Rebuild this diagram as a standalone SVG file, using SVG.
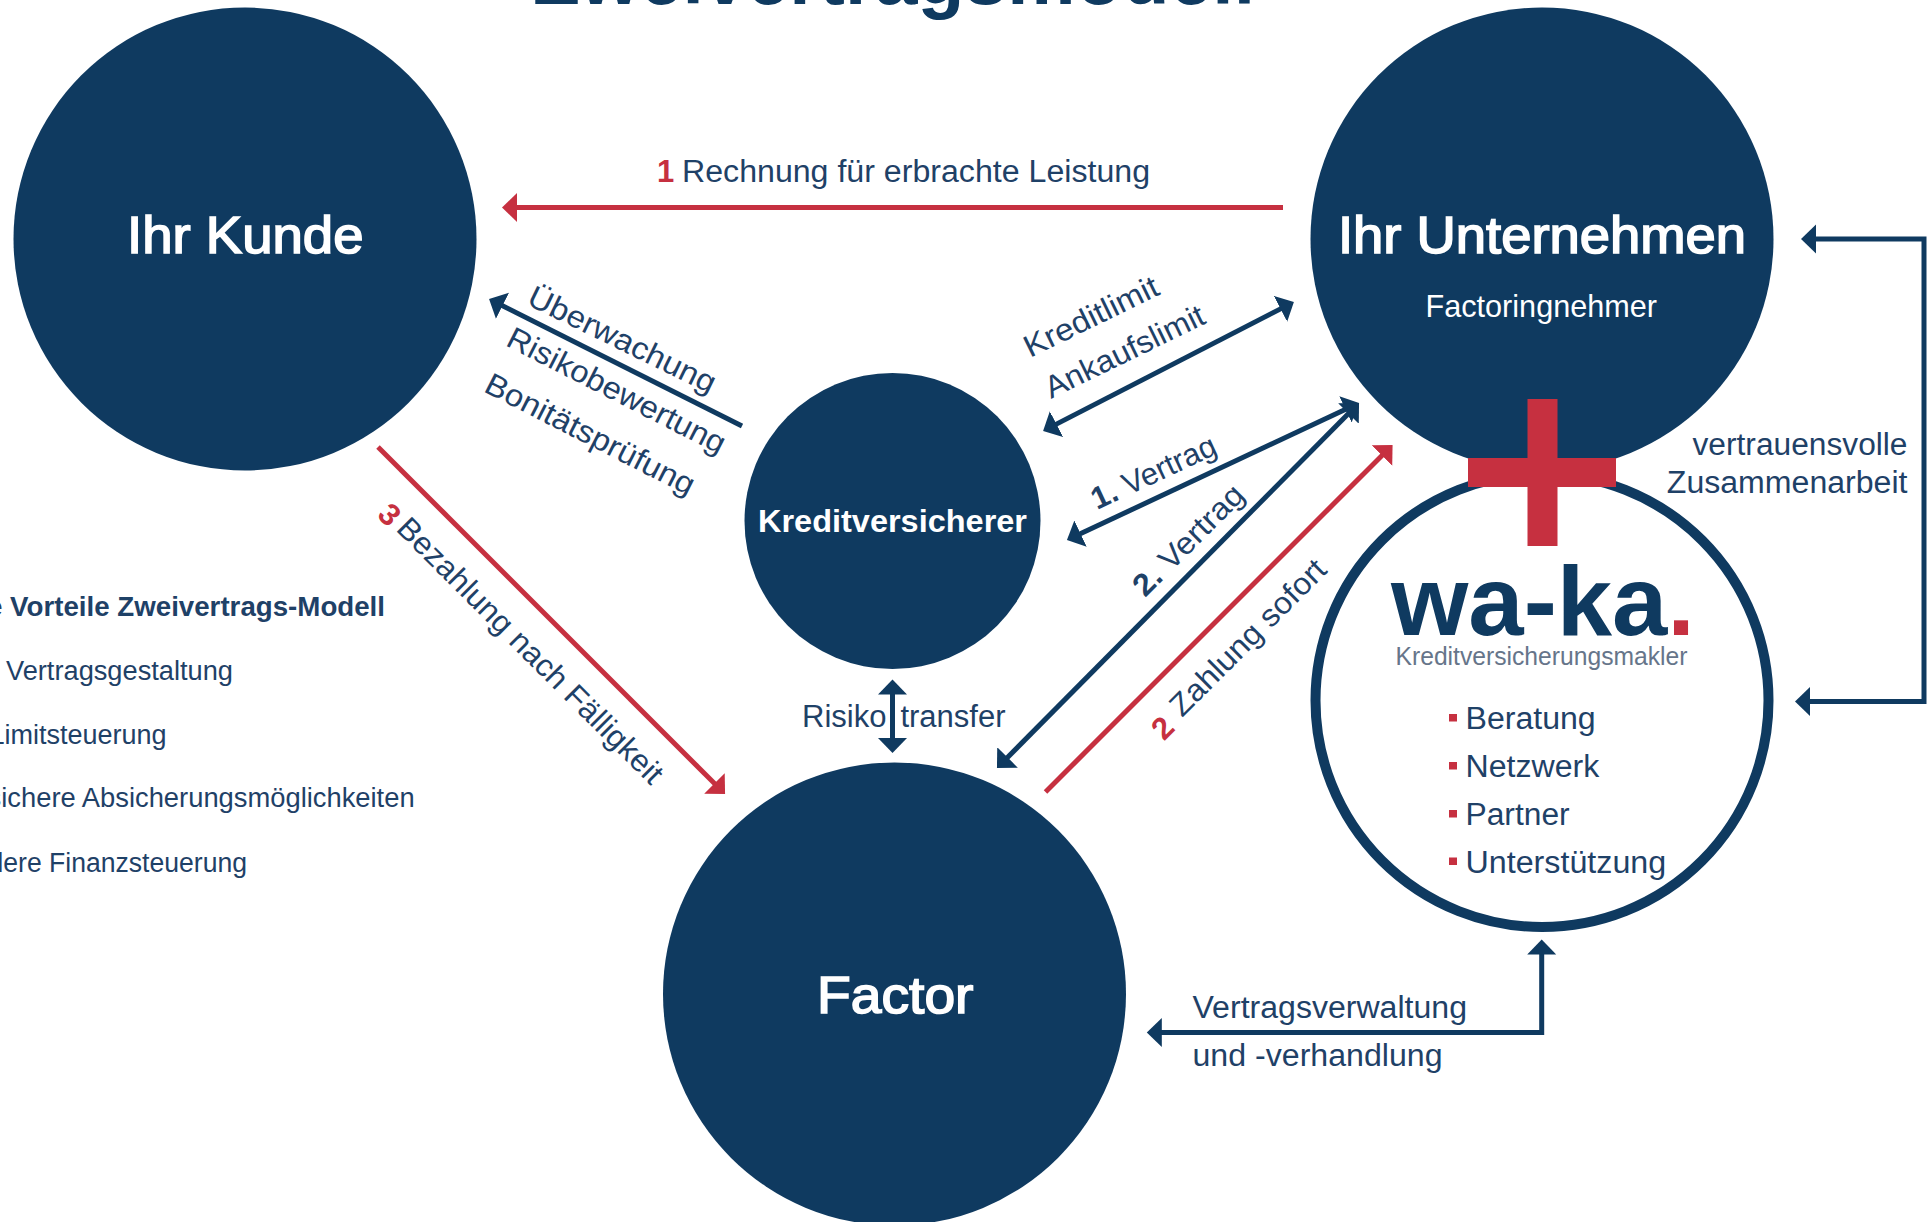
<svg xmlns="http://www.w3.org/2000/svg" width="1932" height="1222" viewBox="0 0 1932 1222">
<style>
text{font-family:"Liberation Sans",Arial,sans-serif;fill:#1f4167;font-size:31px}
.w{fill:#fff}
.big{font-size:52px;stroke:#fff;stroke-width:1.6px}
.red{fill:#c63040}
.b{font-weight:700}
.side{font-size:27px}
.node{fill:#0f3a60}
.ln{fill:none;stroke:#0f3a60;stroke-width:5}
.lr{fill:none;stroke:#c63040;stroke-width:5}
</style>
<defs>
<marker id="an" markerUnits="userSpaceOnUse" markerWidth="20" markerHeight="32" viewBox="0 0 20 32" refX="5" refY="16" orient="auto-start-reverse"><path d="M0,1.500L15,16L0,30.500Z" fill="#0f3a60"/></marker>
<marker id="ar" markerUnits="userSpaceOnUse" markerWidth="20" markerHeight="32" viewBox="0 0 20 32" refX="5" refY="16" orient="auto-start-reverse"><path d="M0,1.500L15,16L0,30.500Z" fill="#c63040"/></marker>
</defs>
<rect width="1932" height="1222" fill="#fff"/>
<text id="title" x="533" y="4" class="b" style="font-size:77px;fill:#0f3a60" textLength="722" lengthAdjust="spacingAndGlyphs">Zweivertragsmodell</text>
<g id="connectors">
<path class="lr" marker-end="url(#ar)" d="M1283,207.500H512"/>
<path class="ln" marker-end="url(#an)" d="M742,426L498,303.500"/>
<path class="lr" marker-end="url(#ar)" d="M378,447L718,787"/>
<path class="ln" marker-start="url(#an)" marker-end="url(#an)" d="M1052,426.400L1285,306.600"/>
<path class="ln" marker-start="url(#an)" marker-end="url(#an)" d="M1076,535.800L1350,407.200"/>
<path class="ln" marker-start="url(#an)" marker-end="url(#an)" d="M1004,761L1352,410"/>
<path class="lr" marker-end="url(#ar)" d="M1045.500,792L1385.500,452"/>
<path class="ln" marker-start="url(#an)" marker-end="url(#an)" d="M892.500,689.500V743"/>
<path class="ln" marker-start="url(#an)" marker-end="url(#an)" d="M1811,239H1924V701.500H1805"/>
<path class="ln" marker-start="url(#an)" marker-end="url(#an)" d="M1156.800,1032.500H1541.700V949.500"/>
</g>
<g id="edge-labels">
<text x="657" y="182"><tspan class="red b">1</tspan></text>
<text x="682" y="182" textLength="468" lengthAdjust="spacingAndGlyphs">Rechnung für erbrachte Leistung</text>
<text transform="translate(525.500,304) rotate(26)" textLength="205" lengthAdjust="spacingAndGlyphs">Überwachung</text>
<text transform="translate(504.500,345) rotate(27)" textLength="241" lengthAdjust="spacingAndGlyphs">Risikobewertung</text>
<text transform="translate(482.500,391) rotate(27)" textLength="231" lengthAdjust="spacingAndGlyphs">Bonitätsprüfung</text>
<text transform="translate(376,516) rotate(45)"><tspan class="red b">3</tspan></text>
<text transform="translate(395,530) rotate(45)" textLength="362" lengthAdjust="spacingAndGlyphs">Bezahlung nach Fälligkeit</text>
<text transform="translate(1030,358) rotate(-26)" textLength="146" lengthAdjust="spacingAndGlyphs">Kreditlimit</text>
<text transform="translate(1051,399) rotate(-26)" textLength="174" lengthAdjust="spacingAndGlyphs">Ankaufslimit</text>
<text transform="translate(1097,510) rotate(-25)"><tspan class="b">1.</tspan> Vertrag</text>
<text transform="translate(1145,598) rotate(-45)" textLength="143" lengthAdjust="spacingAndGlyphs"><tspan class="b">2.</tspan> Vertrag</text>
<text transform="translate(1164,741.500) rotate(-45)"><tspan class="red b">2</tspan></text>
<text transform="translate(1182,718) rotate(-45)" textLength="207" lengthAdjust="spacingAndGlyphs">Zahlung sofort</text>
<text x="802" y="726.500">Risiko<tspan dx="14">transfer</tspan></text>
<text x="1692.500" y="454.500" textLength="215" lengthAdjust="spacingAndGlyphs">vertrauensvolle</text>
<text x="1666.800" y="493" textLength="240.700" lengthAdjust="spacingAndGlyphs">Zusammenarbeit</text>
<text x="1192.500" y="1018" textLength="274.500" lengthAdjust="spacingAndGlyphs">Vertragsverwaltung</text>
<text x="1192.500" y="1066" textLength="250" lengthAdjust="spacingAndGlyphs">und -verhandlung</text>
</g>
<g id="node-kunde"><circle class="node" cx="245" cy="239" r="231.500"/><text class="w big" x="127" y="253" textLength="236.500" lengthAdjust="spacingAndGlyphs">Ihr Kunde</text></g>
<g id="node-unternehmen"><circle class="node" cx="1542" cy="239" r="231.500"/><text class="w big" x="1338" y="253" textLength="408" lengthAdjust="spacingAndGlyphs">Ihr Unternehmen</text><text class="w" x="1425.500" y="317" style="font-size:32px" textLength="231.500" lengthAdjust="spacingAndGlyphs">Factoringnehmer</text></g>
<g id="node-kreditversicherer"><circle class="node" cx="892.500" cy="521" r="148"/><text class="w b" x="758" y="532" style="font-size:32px" textLength="269" lengthAdjust="spacingAndGlyphs">Kreditversicherer</text></g>
<g id="node-factor"><circle class="node" cx="894.500" cy="994" r="231.500"/><text class="w big" x="817" y="1013" textLength="156.500" lengthAdjust="spacingAndGlyphs">Factor</text></g>
<g id="node-waka">
<circle cx="1542" cy="700.500" r="226.500" fill="#fff" stroke="#0f3a60" stroke-width="10"/>
<text class="b" x="1391" y="635" style="font-size:98px;fill:#0f3a60" textLength="304" lengthAdjust="spacingAndGlyphs">wa-ka<tspan class="red">.</tspan></text>
<text x="1395.500" y="665" style="font-size:25px;fill:#66758a" textLength="292" lengthAdjust="spacingAndGlyphs">Kreditversicherungsmakler</text>
<rect x="1449" y="714" width="8" height="7.500" fill="#c63040"/>
<rect x="1449" y="762" width="8" height="7.500" fill="#c63040"/>
<rect x="1449" y="810" width="8" height="7.500" fill="#c63040"/>
<rect x="1449" y="857.500" width="8" height="7.500" fill="#c63040"/>
<text x="1465.500" y="728.500" textLength="130.200" lengthAdjust="spacingAndGlyphs">Beratung</text>
<text x="1465.500" y="776.500" textLength="133.700" lengthAdjust="spacingAndGlyphs">Netzwerk</text>
<text x="1465.500" y="824.500" textLength="104.200" lengthAdjust="spacingAndGlyphs">Partner</text>
<text x="1465.500" y="873" textLength="200.700" lengthAdjust="spacingAndGlyphs">Unterstützung</text>
</g>
<g id="plus"><rect x="1527.500" y="399" width="30" height="147" fill="#c63040"/><rect x="1468" y="458" width="148" height="29" fill="#c63040"/></g>
<g id="benefits">
<text class="side b" x="-13" y="616" textLength="398" lengthAdjust="spacingAndGlyphs">e Vorteile Zweivertrags-Modell</text>
<text class="side" x="6" y="679.500" textLength="227" lengthAdjust="spacingAndGlyphs">Vertragsgestaltung</text>
<text class="side" x="166.500" y="744" text-anchor="end">Limitsteuerung</text>
<text class="side" x="-12.400" y="807" textLength="427" lengthAdjust="spacingAndGlyphs">sichere Absicherungsmöglichkeiten</text>
<text class="side" x="-11.500" y="871.500" textLength="258.500" lengthAdjust="spacingAndGlyphs">dere Finanzsteuerung</text>
</g>
</svg>
